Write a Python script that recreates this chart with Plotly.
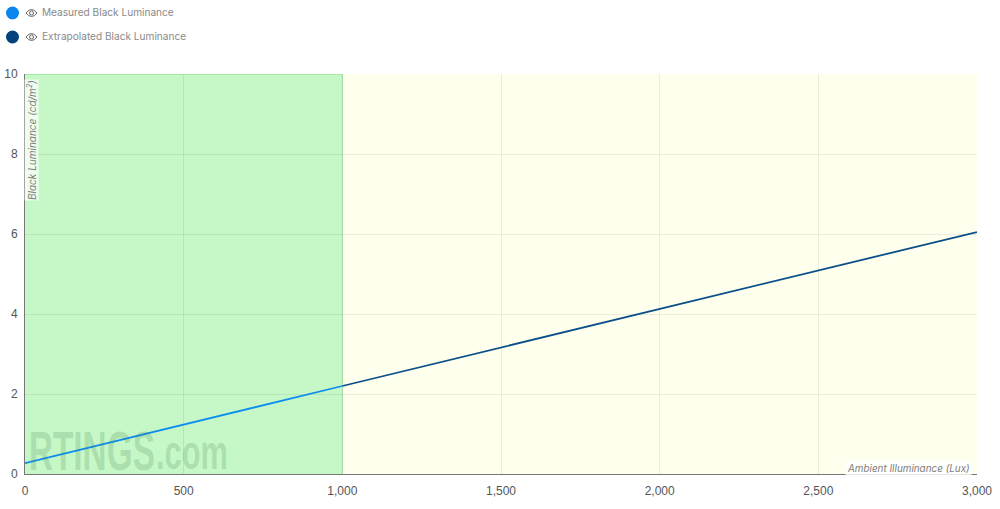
import plotly.graph_objects as go

measured_x = [0, 1000]
measured_y = [0.27, 2.2]
extrapolated_x = [1000, 3000]
extrapolated_y = [2.2, 6.05]

x_ticks = [0, 500, 1000, 1500, 2000, 2500, 3000]
x_labels = ["0", "500", "1,000", "1,500", "2,000", "2,500", "3,000"]
y_ticks = [0, 2, 4, 6, 8, 10]

W, H = 1000, 509
L, R, T, B = 25, 23, 74, 35

FONT = "Inter, Roboto, sans-serif"
TICK_FONT = "Liberation Sans, Arial, sans-serif"
MARK_COLOR = "rgba(60,120,70,0.2)"


# paper coordinates run over the plot area, so convert from window pixels
def px(x):
    return (x - L) / (W - L - R)


def py(y):
    return 1 - (y - T) / (H - T - B)


fig = go.Figure()

fig.add_trace(go.Scatter(x=extrapolated_x, y=extrapolated_y, mode="lines",
                         line=dict(color="#0b4f8a", width=1.8), showlegend=False))
fig.add_trace(go.Scatter(x=measured_x, y=measured_y, mode="lines",
                         line=dict(color="#0c8df0", width=1.8), showlegend=False))

# coloured zones behind the grid
fig.add_shape(type="rect", xref="x", yref="y", x0=0, x1=1000, y0=0, y1=10, layer="below",
              fillcolor="#c6f7c6", line=dict(width=0))
fig.add_shape(type="rect", xref="x", yref="y", x0=1000, x1=3000, y0=0, y1=10, layer="below",
              fillcolor="#feffec", line=dict(width=0))
fig.add_shape(type="line", xref="x", yref="y", x0=0, x1=1000, y0=10, y1=10, layer="below",
              line=dict(color="#93e993", width=1.5))
fig.add_shape(type="line", xref="x", yref="y", x0=1000, x1=1000, y0=0, y1=10, layer="below",
              line=dict(color="#a8eca8", width=1))

# legend, drawn by hand so it sits like the original
legend = [("Measured Black Luminance", "#0a84ee", 13), ("Extrapolated Black Luminance", "#03427c", 37)]
for name, color, y in legend:
    fig.add_shape(type="circle", xref="paper", yref="paper",
                  x0=px(6), x1=px(19), y0=py(y - 6.5), y1=py(y + 6.5),
                  fillcolor=color, line=dict(width=0))
    fig.add_shape(type="path", xref="paper", yref="paper",
                  path=f"M {px(26)} {py(y)} Q {px(31.5)} {py(y - 7)} {px(37)} {py(y)} "
                       f"Q {px(31.5)} {py(y + 7)} {px(26)} {py(y)} Z",
                  fillcolor="rgba(0,0,0,0)", line=dict(color="#666666", width=1))
    fig.add_shape(type="circle", xref="paper", yref="paper",
                  x0=px(29.5), x1=px(33.5), y0=py(y - 2), y1=py(y + 2),
                  fillcolor="rgba(0,0,0,0)", line=dict(color="#666666", width=1))
    fig.add_annotation(text=name, xref="paper", yref="paper", x=px(39.5), y=py(y - 1),
                       xanchor="left", yanchor="middle", showarrow=False,
                       font=dict(family=FONT, size=10.1, color="#8a8a8a"))

# watermark, squeezed to its narrow width further down
fig.add_annotation(text="RTINGS", xref="paper", yref="paper", x=px(92), y=py(484), xanchor="center", yanchor="bottom",
                   showarrow=False, font=dict(family=TICK_FONT, size=55, weight=700, color=MARK_COLOR))
fig.add_annotation(text=".com", xref="paper", yref="paper", x=px(192), y=py(481), xanchor="center", yanchor="bottom",
                   showarrow=False, font=dict(family=TICK_FONT, size=48, weight=700, color=MARK_COLOR))

# axis titles
fig.add_annotation(text="<i>Black Luminance (cd/m<sup>2</sup>)</i>", xref="paper", yref="paper",
                   x=px(31), y=py(79), textangle=-90, xanchor="center", yanchor="top",
                   showarrow=False, bgcolor="rgba(255,255,255,0.7)", borderpad=0,
                   font=dict(family=FONT, size=10, color="#7d7d7d"))
fig.add_annotation(text="<i>Ambient Illuminance (Lux)</i>", xref="paper", yref="paper",
                   x=px(972), y=py(476), xanchor="right", yanchor="bottom",
                   showarrow=False, bgcolor="rgba(255,255,255,0.8)", borderpad=1,
                   font=dict(family=FONT, size=9.9, color="#7d7d7d"))

fig.update_xaxes(range=[0, 3000], tickvals=x_ticks, ticktext=x_labels, showgrid=True,
                 gridcolor="rgba(0,0,0,0.07)", gridwidth=1, zeroline=False, automargin=False,
                 showline=True, linecolor="#777777", linewidth=1,
                 ticks="outside", ticklen=6, tickcolor="rgba(0,0,0,0)",
                 tickfont=dict(family=TICK_FONT, size=12, color="#555555"))
fig.update_yaxes(range=[0, 10], tickvals=y_ticks, showgrid=True,
                 gridcolor="rgba(0,0,0,0.07)", gridwidth=1, zeroline=False, automargin=False,
                 showline=True, linecolor="#777777", linewidth=1,
                 ticks="outside", ticklen=4, tickcolor="rgba(0,0,0,0)",
                 tickfont=dict(family=TICK_FONT, size=12, color="#555555"))

fig.update_layout(width=W, height=H, margin=dict(l=L, r=R, t=T, b=B),
                  paper_bgcolor="white", plot_bgcolor="white", showlegend=False)

squeeze = """
document.body.style.margin = '0';
document.querySelectorAll('.annotation-text').forEach(function (t) {
    var widths = {'RTINGS': 126, '.com': 72};
    var w = widths[t.textContent];
    if (w) {
        t.setAttribute('textLength', w);
        t.setAttribute('lengthAdjust', 'spacingAndGlyphs');
    }
});
"""
fig.write_html("out.html", config=dict(displayModeBar=False), post_script=squeeze)
